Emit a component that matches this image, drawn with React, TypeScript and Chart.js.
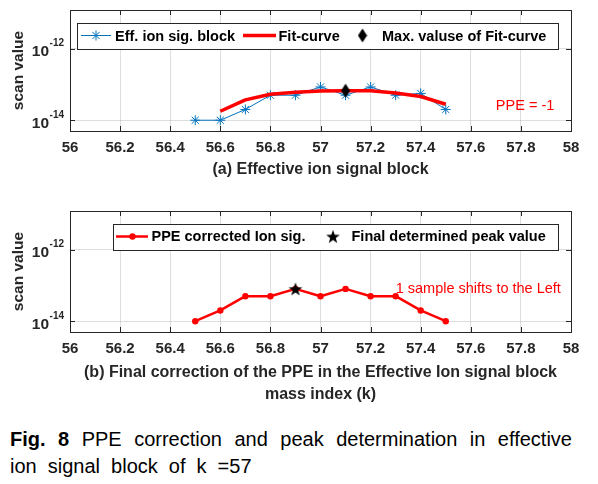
import React, { useEffect, useRef } from 'react';
import { Chart, registerables } from 'chart.js';

Chart.register(...registerables);

// ---------------- data ----------------
const massIndex = [56.5, 56.6, 56.7, 56.8, 56.9, 57.0, 57.1, 57.2, 57.3, 57.4, 57.5];
const effIonSig = [1e-14, 1e-14, 2e-14, 5e-14, 5e-14, 8.5e-14, 5e-14, 8.5e-14, 5e-14, 5.6e-14, 2e-14];
const fitX = [56.6, 56.7, 56.8, 56.9, 57.0, 57.1, 57.2, 57.3, 57.4, 57.5];
const fitCurve = [1.78e-14, 3.7e-14, 5.3e-14, 6.0e-14, 6.6e-14, 6.7e-14, 6.7e-14, 5.8e-14, 4.6e-14, 2.8e-14];
const maxFitX = [57.1];
const maxFitY = [6.7e-14];
const correctedSig = [1e-14, 2e-14, 5e-14, 5e-14, 8e-14, 5e-14, 8e-14, 5e-14, 5e-14, 2e-14, 1e-14];
const peakX = [56.9];
const peakY = [8e-14];
const yTickValues = [1e-14, 1e-12];
const xMin = 56;
const xMax = 58;
const xStep = 0.2;
const yMin = 5e-15;
const yMax = 1.2e-11;
const labelsA = ['Eff. ion sig. block', 'Fit-curve', 'Max. valuse of Fit-curve'];
const labelsB = ['PPE corrected Ion sig.', 'Final determined peak value'];
const noteA = { text: 'PPE = -1', x: 57.7, y: 2.5e-14 };
const noteB = { text: '1 sample shifts to the Left', x: 57.3, y: 8e-14 };

// ---------------- styles ----------------
const FONT = '"Liberation Sans", Arial, Helvetica, sans-serif';
const AX = '#262626';
const GRID = 'rgba(0,0,0,0.13)';
const BLUE = '#0072BD';
const RED = '#FF0000';

function makeDiamond(): HTMLCanvasElement {
  const c = document.createElement('canvas');
  c.width = 10;
  c.height = 15;
  const g = c.getContext('2d')!;
  g.fillStyle = '#000';
  g.beginPath();
  g.moveTo(5, 0.5);
  g.lineTo(9.5, 7.5);
  g.lineTo(5, 14.5);
  g.lineTo(0.5, 7.5);
  g.closePath();
  g.fill();
  return c;
}

function makeStar(): HTMLCanvasElement {
  const c = document.createElement('canvas');
  c.width = 16;
  c.height = 16;
  const g = c.getContext('2d')!;
  const cx = 8, cy = 8.6, R = 7.2, r = 2.9;
  g.beginPath();
  for (let i = 0; i < 10; i++) {
    const a = -Math.PI / 2 + (i * Math.PI) / 5;
    const rad = i % 2 === 0 ? R : r;
    g.lineTo(cx + rad * Math.cos(a), cy + rad * Math.sin(a));
  }
  g.closePath();
  g.fillStyle = '#000';
  g.fill();
  return c;
}

function fmtX(v: number | string) {
  const n = Math.round(Number(v) * 10) / 10;
  return String(n);
}

type LegendItem = {
  kind: 'lineStar' | 'thickLine' | 'diamond' | 'lineDot' | 'star';
  label: string;
  x0?: number;
  x1?: number;
  mx?: number;
  tx: number;
};

function drawAsterisk(ctx: CanvasRenderingContext2D, x: number, y: number, r: number) {
  const d = r * Math.SQRT1_2;
  ctx.beginPath();
  ctx.moveTo(x - r, y); ctx.lineTo(x + r, y);
  ctx.moveTo(x, y - r); ctx.lineTo(x, y + r);
  ctx.moveTo(x - d, y - d); ctx.lineTo(x + d, y + d);
  ctx.moveTo(x - d, y + d); ctx.lineTo(x + d, y - d);
  ctx.stroke();
}

function makeDecor(cfg: {
  box: [number, number, number, number];
  textY: number;
  lineY: number;
  items: LegendItem[];
  note: { text: string; x: number; y: number };
  diamond?: HTMLCanvasElement;
  star?: HTMLCanvasElement;
}) {
  return {
    id: 'matlabDecor',
    afterDraw(chart: any) {
      const ctx: CanvasRenderingContext2D = chart.ctx;
      const { left, right, top, bottom } = chart.chartArea;
      const xs = chart.scales.x;
      const ys = chart.scales.y;
      ctx.save();
      // box
      ctx.strokeStyle = AX;
      ctx.lineWidth = 1;
      ctx.strokeRect(Math.round(left) + 0.5, Math.round(top) + 0.5, Math.round(right - left), Math.round(bottom - top));
      // inward tick marks
      ctx.beginPath();
      xs.ticks.forEach((t: any) => {
        const px = Math.round(xs.getPixelForValue(t.value)) + 0.5;
        ctx.moveTo(px, bottom); ctx.lineTo(px, bottom - 5);
        ctx.moveTo(px, top); ctx.lineTo(px, top + 5);
      });
      ys.ticks.forEach((t: any) => {
        const py = Math.round(ys.getPixelForValue(t.value)) + 0.5;
        ctx.moveTo(left, py); ctx.lineTo(left + 5, py);
        ctx.moveTo(right, py); ctx.lineTo(right - 5, py);
      });
      ctx.stroke();
      // y tick labels with superscript exponent
      ctx.fillStyle = AX;
      ctx.textBaseline = 'middle';
      ctx.textAlign = 'right';
      ys.ticks.forEach((t: any) => {
        const py = ys.getPixelForValue(t.value);
        const e = Math.round(Math.log10(t.value));
        const sup = (e < 0 ? '-' : '') + Math.abs(e);
        ctx.font = `bold 10px ${FONT}`;
        const sw = ctx.measureText(sup).width;
        const xr = left - 6;
        ctx.fillText(sup, xr, py - 5);
        ctx.font = `bold 15.5px ${FONT}`;
        ctx.fillText('10', xr - sw - 0.5, py + 3);
      });
      // annotation
      ctx.font = `14.5px ${FONT}`;
      ctx.fillStyle = RED;
      ctx.textAlign = 'left';
      ctx.fillText(cfg.note.text, xs.getPixelForValue(cfg.note.x), ys.getPixelForValue(cfg.note.y));
      // legend
      const [bx0, by0, bx1, by1] = cfg.box;
      ctx.fillStyle = '#fff';
      ctx.fillRect(bx0, by0, bx1 - bx0, by1 - by0);
      ctx.strokeStyle = AX;
      ctx.lineWidth = 1;
      ctx.strokeRect(bx0 + 0.5, by0 + 0.5, bx1 - bx0, by1 - by0);
      const ly = cfg.lineY;
      cfg.items.forEach((it) => {
        if (it.kind === 'lineStar') {
          ctx.strokeStyle = BLUE;
          ctx.lineWidth = 1;
          ctx.beginPath(); ctx.moveTo(it.x0!, ly); ctx.lineTo(it.x1!, ly); ctx.stroke();
          drawAsterisk(ctx, it.mx!, ly, 5);
        } else if (it.kind === 'thickLine') {
          ctx.strokeStyle = RED;
          ctx.lineWidth = 3.5;
          ctx.beginPath(); ctx.moveTo(it.x0!, ly); ctx.lineTo(it.x1!, ly); ctx.stroke();
        } else if (it.kind === 'lineDot') {
          ctx.strokeStyle = RED;
          ctx.lineWidth = 2.5;
          ctx.beginPath(); ctx.moveTo(it.x0!, ly); ctx.lineTo(it.x1!, ly); ctx.stroke();
          ctx.fillStyle = RED;
          ctx.beginPath(); ctx.arc(it.mx!, ly, 3.2, 0, Math.PI * 2); ctx.fill();
        } else if (it.kind === 'diamond' && cfg.diamond) {
          ctx.drawImage(cfg.diamond, it.mx! - cfg.diamond.width / 2, ly - cfg.diamond.height / 2);
        } else if (it.kind === 'star' && cfg.star) {
          ctx.drawImage(cfg.star, it.mx! - cfg.star.width / 2, ly - cfg.star.height / 2);
        }
        ctx.fillStyle = '#000';
        ctx.font = `bold 14.5px ${FONT}`;
        ctx.textAlign = 'left';
        ctx.textBaseline = 'middle';
        ctx.fillText(it.label, it.tx, cfg.textY);
      });
      ctx.restore();
    },
  };
}

function baseOptions(xTitle: string | string[], xTitlePadBottom: number, xAxisHeight: number): any {
  return {
    responsive: false,
    maintainAspectRatio: false,
    animation: false,
    devicePixelRatio: 1,
    events: [],
    layout: { padding: { left: 0, right: 27, top: 10, bottom: 0 } },
    plugins: {
      legend: { display: false },
      tooltip: { enabled: false },
      title: { display: false },
    },
    scales: {
      x: {
        type: 'linear',
        min: xMin,
        max: xMax,
        ticks: {
          stepSize: xStep,
          autoSkip: false,
          maxRotation: 0,
          padding: 8,
          color: AX,
          font: { family: FONT, size: 15, weight: 'bold' },
          callback: (v: any) => fmtX(v),
        },
        grid: { color: GRID, drawTicks: false, lineWidth: 1 },
        border: { display: false },
        title: {
          display: true,
          text: xTitle,
          color: AX,
          font: { family: FONT, size: 16, weight: 'bold', lineHeight: 1.4 },
          padding: { top: 0, bottom: xTitlePadBottom },
        },
        afterFit: (s: any) => {
          s.height = xAxisHeight;
        },
      },
      y: {
        type: 'logarithmic',
        min: yMin,
        max: yMax,
        afterBuildTicks: (s: any) => {
          s.ticks = yTickValues.map((v) => ({ value: v }));
        },
        ticks: { display: false },
        grid: { color: GRID, drawTicks: false, lineWidth: 1 },
        border: { display: false },
        title: {
          display: true,
          text: 'scan value',
          color: AX,
          font: { family: FONT, size: 15.5, weight: 'bold', lineHeight: 1.2 },
          padding: { top: 9, bottom: 0 },
        },
        afterFit: (s: any) => {
          s.width = 70;
        },
      },
    },
  };
}

export default function App() {
  const refA = useRef<HTMLCanvasElement>(null);
  const refB = useRef<HTMLCanvasElement>(null);

  useEffect(() => {
    Chart.defaults.font.family = FONT;
    const diamond = makeDiamond();
    const star = makeStar();

    const chartA = new Chart(refA.current!, {
      type: 'line',
      data: {
        datasets: [
          {
            label: labelsA[0],
            data: massIndex.map((x, i) => ({ x, y: effIonSig[i] })),
            borderColor: BLUE,
            borderWidth: 1,
            pointStyle: 'star',
            pointRadius: 5,
            pointBorderColor: BLUE,
            pointBackgroundColor: BLUE,
            pointBorderWidth: 1,
            tension: 0,
            order: 3,
          },
          {
            label: labelsA[1],
            data: fitX.map((x, i) => ({ x, y: fitCurve[i] })),
            borderColor: RED,
            borderWidth: 3.5,
            borderJoinStyle: 'round',
            pointRadius: 0,
            tension: 0,
            order: 2,
          },
          {
            label: labelsA[2],
            data: maxFitX.map((x, i) => ({ x, y: maxFitY[i] })),
            showLine: false,
            pointStyle: diamond,
            pointRadius: 5,
            order: 1,
          },
        ],
      } as any,
      options: baseOptions('(a) Effective ion signal block', 9.3, 59),
      plugins: [
        makeDecor({
          box: [77, 23, 558, 49],
          textY: 36.5,
          lineY: 35.5,
          items: [
            { kind: 'lineStar', label: labelsA[0], x0: 81, x1: 111, mx: 96, tx: 115 },
            { kind: 'thickLine', label: labelsA[1], x0: 243, x1: 276, tx: 278.5 },
            { kind: 'diamond', label: labelsA[2], mx: 362.5, tx: 382 },
          ],
          note: noteA,
          diamond,
        }),
      ],
    });

    const chartB = new Chart(refB.current!, {
      type: 'line',
      data: {
        datasets: [
          {
            label: labelsB[0],
            data: massIndex.map((x, i) => ({ x, y: correctedSig[i] })),
            borderColor: RED,
            borderWidth: 2.5,
            borderJoinStyle: 'round',
            pointStyle: 'circle',
            pointRadius: 3.2,
            pointBorderWidth: 0,
            pointBackgroundColor: RED,
            pointBorderColor: RED,
            tension: 0,
            order: 2,
          },
          {
            label: labelsB[1],
            data: peakX.map((x, i) => ({ x, y: peakY[i] })),
            showLine: false,
            pointStyle: star,
            pointRadius: 5,
            order: 1,
          },
        ],
      } as any,
      options: baseOptions(
        ['(b) Final correction of the PPE in the Effective Ion signal block', 'mass index (k)'],
        9.8,
        84
      ),
      plugins: [
        makeDecor({
          box: [113, 23, 558, 49],
          textY: 36,
          lineY: 35.5,
          items: [
            { kind: 'lineDot', label: labelsB[0], x0: 116, x1: 148, mx: 132.5, tx: 151.5 },
            { kind: 'star', label: labelsB[1], mx: 333, tx: 351.5 },
          ],
          note: noteB,
          star,
        }),
      ],
    });

    return () => {
      chartA.destroy();
      chartB.destroy();
    };
  }, []);

  return (
    <div
      style={{
        position: 'absolute',
        left: 0,
        top: 0,
        width: 598,
        height: 484,
        background: '#fff',
        overflow: 'hidden',
      }}
    >
      <canvas
        ref={refA}
        width={598}
        height={190}
        style={{ position: 'absolute', left: 0, top: 0, width: 598, height: 190 }}
      />
      <canvas
        ref={refB}
        width={598}
        height={215}
        style={{ position: 'absolute', left: 0, top: 201, width: 598, height: 215 }}
      />
      <div
        style={{
          position: 'absolute',
          left: 10,
          top: 425.5,
          width: 562,
          fontFamily: FONT,
          fontSize: '20px',
          lineHeight: '27px',
          color: '#000',
        }}
      >
        <div style={{ textAlign: 'justify', textAlignLast: 'justify' } as any}>
          <b>Fig. 8</b> PPE correction and peak determination in effective
        </div>
        <div style={{ wordSpacing: '5.5px' }}>ion signal block of k =57</div>
      </div>
    </div>
  );
}
